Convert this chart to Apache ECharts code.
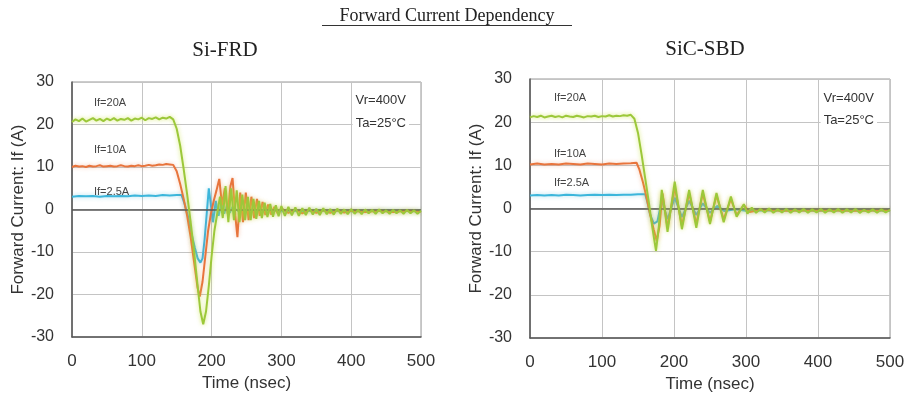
<!DOCTYPE html>
<html>
<head>
<meta charset="utf-8">
<script src="https://cdn.jsdelivr.net/npm/echarts@6/dist/echarts.min.js"></script>
<style>html,body{margin:0;padding:0;background:#fff}#c{width:908px;height:393px}</style>
</head>
<body>
<div id="c"></div>
<script>
// ---- data (time in nsec, current in A) ----
const mainTitle = 'Forward Current Dependency';
const panelTitles = ['Si-FRD', 'SiC-SBD'];
const seriesNames = ['If=2.5A', 'If=10A', 'If=20A'];
const xName = 'Time (nsec)';
const yName = 'Forward Current: If (A)';
const xMin = 0, xMax = 500, xStep = 100;
const yMin = -30, yMax = 30, yStep = 10;

const siFRD_20A = [[0,20.6],[5,21.2],[10,20.8],[15,21.4],[20,20.7],[25,21.1],[30,21.5],[35,20.9],[40,21.3],[45,20.8],[50,21.4],[55,21.0],[60,21.5],[65,20.9],[70,21.3],[75,21.1],[80,21.5],[85,20.9],[90,21.4],[95,21.2],[100,21.6],[105,21.0],[110,21.5],[115,21.3],[120,21.7],[125,21.2],[130,21.6],[135,21.4],[140,21.8],[145,21.2],[150,19],[155,15],[160,9.5],[165,3.5],[170,-3],[175,-10],[180,-18],[184,-24],[188,-27],[192,-24],[196,-18],[200,-11],[204,-5],[208,-1],[212,3],[216,-2],[220,5.5],[224,-3],[228,5],[232,-2.5],[236,4.5],[240,-3],[244,3.5],[248,-2.5],[252,3],[256,-2.5],[260,2.5],[264,-2.2],[268,2],[272,-2],[276,1.6],[280,-1.8],[284,1.3],[288,-1.7],[292,1],[296,-1.6],[300,0.8],[305,-1.5],[310,0.6],[315,-1.4],[320,0.5],[325,-1.5],[330,0.3],[335,-1.3],[340,0.4],[345,-1.2],[350,0.2],[355,-1.3],[360,0.3],[365,-1.1],[370,0.1],[375,-1.2],[380,0.2],[385,-1.0],[390,0.0],[395,-1.1],[400,0.1],[405,-1.0],[410,-0.1],[415,-1.1],[420,0.0],[425,-0.9],[430,-0.1],[435,-1.0],[440,0.0],[445,-0.9],[450,-0.2],[455,-1.0],[460,-0.1],[465,-0.9],[470,-0.2],[475,-1.0],[480,-0.1],[485,-0.9],[490,-0.2],[495,-1.0],[500,-0.3]];
const siFRD_10A = [[0,10.0],[5,10.3],[10,10.1],[15,10.2],[20,10.0],[25,10.3],[30,10.1],[35,10.2],[40,10.4],[45,10.1],[50,10.2],[55,10.3],[60,10.1],[65,10.2],[70,10.4],[75,10.2],[80,10.1],[85,10.3],[90,10.2],[95,10.4],[100,10.2],[105,10.3],[110,10.5],[115,10.3],[120,10.4],[125,10.6],[130,10.5],[135,10.7],[140,10.6],[145,10.5],[150,9],[155,6],[160,2.5],[165,-1.5],[170,-6.5],[175,-12.5],[180,-18.5],[183,-20.5],[187,-17],[191,-11],[195,-5],[199,-1],[203,2],[207,4.5],[211,7.2],[215,1],[219,5],[223,-1],[227,5.5],[230,7.4],[234,-1.5],[237,-6.5],[241,4],[245,-3],[249,4],[253,-2.5],[257,3],[261,-2],[265,2.5],[269,-1.5],[273,1.8],[277,-1.3],[281,1.2],[285,-1.2],[290,0.6],[295,-1],[300,0.3],[310,-0.8],[320,0],[330,-0.9],[340,-0.1],[350,-0.8],[360,-0.2],[370,-0.8],[380,-0.2],[390,-0.7],[400,-0.3],[420,-0.6],[440,-0.3],[460,-0.6],[480,-0.3],[500,-0.5]];
const siFRD_2p5A = [[0,3.0],[10,3.2],[20,3.1],[30,3.2],[40,3.0],[50,3.2],[60,3.1],[70,3.2],[80,3.1],[90,3.3],[100,3.2],[110,3.3],[120,3.2],[130,3.4],[140,3.3],[150,3.4],[157,3.4],[161,1.5],[166,-1.5],[171,-5.5],[176,-9],[180,-11.5],[184,-12.5],[187,-11.5],[190,-7],[193,-1],[196,5],[199,1],[202,-3],[206,2],[210,-1.5],[214,1.5],[218,-1],[222,1],[226,-0.8],[230,0.6],[240,-0.6],[250,0],[260,-0.5],[280,-0.2],[300,-0.4],[350,-0.3],[400,-0.4],[450,-0.3],[500,-0.4]];

const sicSBD_20A = [[0,21.1],[5,21.4],[10,21.2],[15,21.5],[20,21.1],[25,21.3],[30,21.5],[35,21.2],[40,21.4],[45,21.1],[50,21.5],[55,21.3],[60,21.2],[65,21.5],[70,21.3],[75,21.1],[80,21.4],[85,21.3],[90,21.5],[95,21.2],[100,21.4],[105,21.3],[110,21.6],[115,21.3],[120,21.5],[125,21.4],[130,21.6],[135,21.5],[140,21.7],[145,20.8],[150,17.5],[155,12.5],[160,7],[165,1.5],[170,-4.5],[175,-9.8],[179,-4],[183,4.3],[187,0],[191,-5.4],[201,6.2],[211,-4.8],[221,4.3],[231,-4.5],[240,4.3],[250,-3.6],[259,3.6],[269,-3.2],[279,2.8],[287,-1.9],[297,1.0],[302,-1.2],[308,0.2],[314,-1.0],[320,-0.1],[326,-0.9],[332,0.0],[338,-1.0],[344,-0.2],[350,-0.9],[356,-0.1],[362,-1.0],[368,-0.2],[374,-0.9],[380,-0.1],[386,-1.0],[392,-0.2],[398,-0.9],[404,-0.1],[410,-1.0],[416,-0.2],[422,-0.9],[428,-0.1],[434,-1.0],[440,-0.2],[446,-0.9],[452,-0.1],[458,-1.0],[464,-0.3],[470,-0.9],[476,-0.2],[482,-1.0],[488,-0.2],[494,-0.9],[500,-0.3]];
const sicSBD_10A = [[0,10.2],[10,10.4],[20,10.2],[30,10.3],[40,10.2],[50,10.4],[60,10.3],[70,10.2],[80,10.4],[90,10.3],[100,10.2],[110,10.4],[120,10.3],[130,10.4],[140,10.5],[148,10.6],[152,9],[157,6],[162,2.5],[167,-1.5],[172,-5],[176,-7.5],[180,-4],[184,3.5],[191,-4.5],[201,5],[211,-4],[221,3.5],[231,-3.5],[240,3.5],[250,-3],[259,3],[269,-2.5],[279,2.2],[287,-1.5],[297,0.8],[305,-0.8],[320,-0.3],[350,-0.5],[400,-0.4],[450,-0.5],[500,-0.4]];
const sicSBD_2p5A = [[0,3.0],[10,3.1],[20,3.0],[30,3.1],[40,3.0],[50,3.2],[60,3.1],[70,3.0],[80,3.1],[90,3.2],[100,3.1],[110,3.2],[120,3.1],[130,3.2],[140,3.2],[150,3.3],[160,3.3],[163,1.5],[167,-1.5],[172,-3.5],[177,-3],[183,2],[191,-2.5],[201,2.5],[211,-2],[221,1.8],[231,-1.5],[240,1.2],[250,-1],[260,0.6],[270,-0.6],[285,-0.2],[300,-0.5],[350,-0.4],[400,-0.5],[450,-0.4],[500,-0.5]];

const panelData = [[siFRD_2p5A, siFRD_10A, siFRD_20A], [sicSBD_2p5A, sicSBD_10A, sicSBD_20A]];
const colors = ['#3cb6db', '#e8743c', '#9cc83a'];
const shadows = ['rgba(60,182,219,0.45)', 'rgba(232,116,60,0.4)', 'rgba(200,225,60,0.7)'];

// ---- chart ----
const chart = echarts.init(document.getElementById('c'), null, {renderer: 'canvas'});
const grids = [
  {left: 72, width: 349, top: 82, height: 255},
  {left: 530, width: 360, top: 79, height: 259}
];
const FONT = '"Liberation Sans", Arial, sans-serif';
const SERIF = '"Liberation Serif", "Times New Roman", serif';

const option = {
  animation: false,
  backgroundColor: '#fff',
  grid: grids.map(g => Object.assign({show: true, borderColor: '#999', borderWidth: 1, backgroundColor: 'transparent', containLabel: false, outerBoundsMode: 'none'}, g)),
  xAxis: grids.map((g, i) => ({
    type: 'value', gridIndex: i, min: xMin, max: xMax, interval: xStep,
    name: xName, nameLocation: 'middle', nameGap: 37,
    nameTextStyle: {fontFamily: FONT, fontSize: 17, color: '#333'},
    axisLine: {show: true, onZero: false, lineStyle: {color: '#555', width: 1.5}},
    axisTick: {show: false},
    axisLabel: {fontFamily: FONT, fontSize: 17, color: '#333', margin: 16},
    splitLine: {show: true, lineStyle: {color: '#c4c4c4', width: 1}}
  })),
  yAxis: grids.map((g, i) => ({
    type: 'value', gridIndex: i, min: yMin, max: yMax, interval: yStep,
    name: yName, nameLocation: 'middle', nameGap: 45,
    nameTextStyle: {fontFamily: FONT, fontSize: 17, color: '#333'},
    axisLine: {show: true, onZero: false, lineStyle: {color: '#555', width: 1.5}},
    axisTick: {show: false},
    axisLabel: {fontFamily: FONT, fontSize: 16, color: '#333', margin: 18},
    splitLine: {show: true, lineStyle: {color: '#c4c4c4', width: 1}}
  })),
  series: [],
  graphic: []
};

panelData.forEach((list, p) => {
  list.forEach((d, k) => {
    const s = {
      type: 'line', name: panelTitles[p] + ' ' + seriesNames[k],
      xAxisIndex: p, yAxisIndex: p, data: d,
      showSymbol: false, symbol: 'none', z: 3 + k,
      lineStyle: {color: colors[k], width: 2, shadowBlur: 4, shadowColor: shadows[k]}
    };
    if (k === 0) {
      s.markLine = {silent: true, symbol: 'none', label: {show: false},
        lineStyle: {color: '#555', width: 1.5, type: 'solid'}, data: [{yAxis: 0}]};
    }
    option.series.push(s);
  });
});

// titles & annotations
const G = option.graphic;
G.push({type: 'text', x: 447, y: 16, style: {text: mainTitle, font: '18px ' + SERIF, fill: '#222', align: 'center', verticalAlign: 'middle'}});
G.push({type: 'rect', shape: {x: 322, y: 25, width: 250, height: 1}, style: {fill: '#333'}});
G.push({type: 'text', x: 225, y: 50, style: {text: panelTitles[0], font: '21px ' + SERIF, fill: '#222', align: 'center', verticalAlign: 'middle'}});
G.push({type: 'text', x: 705, y: 49, style: {text: panelTitles[1], font: '21px ' + SERIF, fill: '#222', align: 'center', verticalAlign: 'middle'}});

const annot = [
  {x: 94, ys: [103, 150, 192], vx: 409, vy: [100, 123]},
  {x: 554, ys: [98, 154, 183], vx: 877, vy: [98, 120]}
];
annot.forEach(a => {
  [2, 1, 0].forEach((k, j) => {
    G.push({type: 'text', x: a.x, y: a.ys[j], z: 100,
      style: {text: seriesNames[k], font: '11px ' + FONT, fill: '#444', align: 'left', verticalAlign: 'middle'}});
  });
  G.push({type: 'text', x: a.vx, y: a.vy[0], z: 100,
    style: {text: 'Vr=400V', font: '13px ' + FONT, fill: '#333', align: 'right', verticalAlign: 'middle', backgroundColor: '#fff', padding: [1, 3]}});
  G.push({type: 'text', x: a.vx, y: a.vy[1], z: 100,
    style: {text: 'Ta=25°C', font: '13px ' + FONT, fill: '#333', align: 'right', verticalAlign: 'middle', backgroundColor: '#fff', padding: [1, 3]}});
});

chart.setOption(option);
</script>
</body>
</html>
